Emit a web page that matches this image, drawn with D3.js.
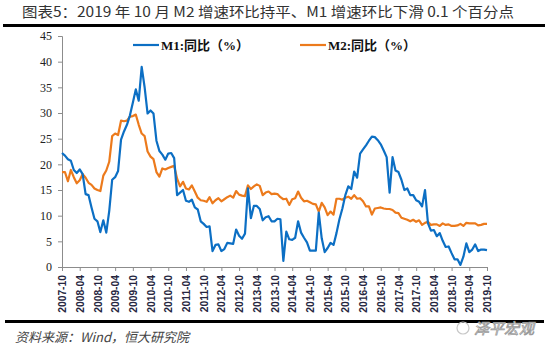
<!DOCTYPE html>
<html>
<head>
<meta charset="utf-8">
<script src="https://cdn.jsdelivr.net/npm/d3@7"></script>
<style>
  body { margin: 0; background: #fff; }
  svg { display: block; }
</style>
</head>
<body>
<script>
// monthly, 2007-10 .. 2019-10
const m1 = [
  22.2, 21.7, 21.0,
  20.7, 18.9, 18.3, 19.0, 18.1, 14.2, 14.0, 11.6, 9.4, 8.9, 6.8, 9.1,
  6.7, 10.9, 17.0, 17.5, 18.7, 24.8, 26.4, 27.7, 29.5, 32.0, 34.6, 32.4,
  39.0, 35.0, 29.9, 30.5, 29.9, 24.6, 22.6, 21.9, 20.9, 22.1, 22.2, 21.2,
  14.0, 14.5, 15.0, 12.9, 12.7, 13.1, 11.6, 11.2, 8.9, 8.4, 7.8, 7.9,
  3.1, 4.3, 4.4, 3.1, 3.5, 4.7, 4.6, 4.5, 7.3, 6.1, 5.5, 6.5,
  15.3, 9.5, 11.9, 11.9, 11.3, 9.1, 9.7, 9.9, 8.9, 8.9, 9.4, 9.3,
  1.2, 6.9, 5.4, 5.3, 5.7, 8.9, 6.7, 5.7, 4.8, 3.2, 3.2, 3.2,
  10.6, 5.6, 2.9, 3.7, 4.7, 4.3, 6.6, 9.3, 11.4, 14.0, 15.7, 15.2,
  18.6, 17.4, 22.1, 22.9, 23.7, 24.6, 25.4, 25.3, 24.7, 23.9, 22.7, 21.4,
  14.5, 21.4, 18.8, 18.5, 17.0, 15.0, 15.3, 14.0, 14.0, 13.0, 12.7, 11.8,
  15.0, 8.5, 7.1, 7.2, 6.0, 6.6, 5.1, 3.9, 4.0, 2.7, 1.5, 1.5,
  0.4, 2.0, 4.6, 2.9, 3.4, 4.4, 3.1, 3.4, 3.4, 3.3
];
const m2 = [
  18.5, 18.5, 16.7,
  18.9, 17.5, 16.3, 16.9, 18.1, 17.4, 16.4, 16.0, 15.3, 15.0, 14.8, 17.8,
  18.8, 20.5, 25.5, 26.0, 25.7, 28.5, 28.4, 28.5, 29.3, 29.4, 29.7, 27.7,
  26.0, 25.5, 22.5, 21.5, 21.0, 18.5, 17.6, 19.2, 19.0, 19.3, 19.5, 19.7,
  17.2, 15.7, 16.6, 15.3, 15.1, 15.9, 14.7, 13.5, 13.0, 12.9, 12.7, 13.6,
  12.4, 13.0, 13.4, 12.8, 13.2, 13.6, 13.9, 13.5, 14.8, 14.1, 13.9, 13.8,
  15.9, 15.2, 15.7, 16.1, 15.8, 14.0, 14.5, 14.7, 14.2, 14.3, 14.2, 13.6,
  13.2, 13.3, 12.1, 13.2, 13.4, 14.7, 13.5, 12.8, 12.9, 12.6, 12.3, 12.2,
  10.8, 12.5, 11.6, 10.1, 10.8, 10.2, 13.3, 13.3, 13.1, 13.5, 13.7, 13.3,
  14.0, 13.3, 13.4, 12.8, 11.8, 11.8, 10.2, 11.4, 11.5, 11.6, 11.4, 11.3,
  11.3, 11.1, 10.6, 10.5, 9.6, 9.4, 9.2, 8.9, 9.2, 8.8, 9.1, 8.2,
  8.6, 8.8, 8.2, 8.3, 8.3, 8.0, 8.5, 8.2, 8.3, 8.0, 8.0, 8.1,
  8.4, 8.0, 8.6, 8.5, 8.5, 8.5, 8.1, 8.2, 8.4, 8.4
];
const tickLabels = [
  "2007-10", "2008-04", "2008-10", "2009-04", "2009-10", "2010-04", "2010-10",
  "2011-04", "2011-10", "2012-04", "2012-10", "2013-04", "2013-10", "2014-04",
  "2014-10", "2015-04", "2015-10", "2016-04", "2016-10", "2017-04", "2017-10",
  "2018-04", "2018-10", "2019-04", "2019-10"
];
const yTicks = [0, 5, 10, 15, 20, 25, 30, 35, 40, 45];
const seriesNames = ["M1:同比（%）", "M2:同比（%）"];
const colors = ["#0C6FC4", "#EC7A1C"];

const W = 550, H = 350;
const svg = d3.select("body").append("svg").attr("width", W).attr("height", H);

// title + rules
svg.append("text")
  .attr("x", 22).attr("y", 17)
  .attr("font-family", "'Noto Sans CJK SC', sans-serif")
  .attr("font-size", 14).attr("fill", "#333")
  .attr("textLength", 492).attr("lengthAdjust", "spacingAndGlyphs")
  .text("图表5：2019 年 10 月 M2 增速环比持平、M1 增速环比下滑 0.1 个百分点");
svg.append("rect").attr("x", 3).attr("y", 24).attr("width", 542).attr("height", 3).attr("fill", "#000");
svg.append("rect").attr("x", 5).attr("y", 320).attr("width", 539).attr("height", 3).attr("fill", "#000");

const x = d3.scaleLinear().domain([0, m1.length - 1]).range([62, 487]);
const y = d3.scaleLinear().domain([0, 45]).range([267, 36]);

// y axis
const yAxis = svg.append("g").attr("transform", "translate(62,0)")
  .call(d3.axisLeft(y).tickValues(yTicks).tickSize(4).tickPadding(6));
yAxis.selectAll("text")
  .attr("font-family", "'Liberation Serif', serif").attr("font-size", 12).attr("fill", "#222");
yAxis.selectAll("path, line").attr("stroke", "#8c8c8c");

// x axis
const xAxis = svg.append("g").attr("transform", "translate(0,267)")
  .call(d3.axisBottom(x).tickValues(tickLabels.map((d, i) => i * 6))
    .tickFormat((d, i) => tickLabels[i]).tickSize(4).tickSizeOuter(0));
xAxis.selectAll("path, line").attr("stroke", "#8c8c8c");
xAxis.selectAll("text")
  .attr("font-family", "'Liberation Sans', Arial, sans-serif")
  .attr("font-size", 10.3).attr("font-weight", "bold").attr("fill", "#262640")
  .attr("transform", "rotate(-90)")
  .attr("text-anchor", "end")
  .attr("x", -8).attr("y", 0).attr("dy", "0.35em");

// lines
const line = d3.line().x((d, i) => x(i)).y(d => y(d));
[m2, m1].forEach((s, k) => {
  svg.append("path").datum(s)
    .attr("fill", "none")
    .attr("stroke", colors[1 - k])
    .attr("stroke-width", 2.2)
    .attr("stroke-linejoin", "round")
    .attr("d", line);
});

// legend
const legX = [133, 300];
seriesNames.forEach((name, i) => {
  const g = svg.append("g").attr("transform", `translate(${legX[i]},45)`);
  g.append("line").attr("x1", 0).attr("x2", 26).attr("y1", 0).attr("y2", 0)
    .attr("stroke", colors[i]).attr("stroke-width", 2.2);
  g.append("text").attr("x", 28).attr("y", 0).attr("dy", "0.36em")
    .attr("font-family", "'Liberation Serif', 'Noto Sans CJK SC', serif")
    .attr("font-size", 13).attr("font-weight", "bold").attr("fill", "#111")
    .text(name);
});

// source
svg.append("text")
  .attr("x", 15).attr("y", 342)
  .attr("font-family", "'Noto Sans CJK SC', sans-serif")
  .attr("font-size", 13).attr("font-style", "italic").attr("fill", "#444")
  .text("资料来源：Wind，恒大研究院");

// watermark
svg.append("circle").attr("cx", 463).attr("cy", 328).attr("r", 6)
  .attr("fill", "none").attr("stroke", "#c8c8c8").attr("stroke-width", 1.2);
svg.append("text")
  .attr("x", 474).attr("y", 334)
  .attr("font-family", "'Noto Sans CJK SC', sans-serif")
  .attr("font-size", 15).attr("font-style", "italic").attr("fill", "#fff")
  .attr("stroke", "#9a9a9a").attr("stroke-width", 0.8)
  .text("泽平宏观");
</script>
</body>
</html>
